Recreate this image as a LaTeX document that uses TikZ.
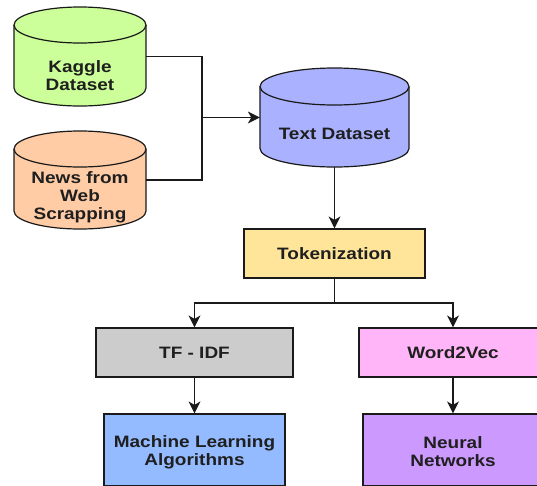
\documentclass[tikz,border=0pt]{standalone}
\usepackage{fontspec}
\setmainfont{Liberation Sans}[FakeStretch=1.15]
\usetikzlibrary{arrows.meta}

\definecolor{cKaggle}{HTML}{CCFF99}
\definecolor{cNews}{HTML}{FFCCA6}
\definecolor{cText}{HTML}{AAB2FF}
\definecolor{cTok}{HTML}{FFE599}
\definecolor{cTfidf}{HTML}{CCCCCC}
\definecolor{cW2v}{HTML}{FFB5F7}
\definecolor{cMl}{HTML}{94BAFF}
\definecolor{cNn}{HTML}{CC99FF}
\definecolor{cLine}{HTML}{1A1A1A}

\tikzset{
  lbl/.style={align=center, text=black!88, font=\fontsize{16.5}{18}\selectfont\bfseries, inner sep=0pt},
  frame/.style={draw=none, inner sep=0pt},
  procbox/.style={draw=cLine, line width=1.2pt, inner sep=0pt},
  cylline/.style={draw=cLine, line width=1.2pt},
  link/.style={draw=cLine, line width=1.3pt},
  flow/.style={link, arrows={-Stealth[length=12pt, width=12pt, inset=3.5pt, line width=0pt]}},
}

\begin{document}
\begin{tikzpicture}[x=1pt, y=-1pt]
  \useasboundingbox (0,0) rectangle (537,485);
  \clip (0,0) rectangle (537,485);

  % --- Kaggle Dataset cylinder ---
  \node[frame, minimum width=132pt, minimum height=99pt] (kaggle) at (80,56.5) {};
  \path[cylline, fill=cKaggle] (14,25) -- (14,88)
    arc[start angle=180, end angle=360, x radius=66pt, y radius=18pt] -- (146,25)
    arc[start angle=0, end angle=180, x radius=66pt, y radius=18pt] -- cycle;
  \draw[cylline] (14,25) arc[start angle=180, end angle=360, x radius=66pt, y radius=18pt];
  \node[lbl] (kagglelbl) at (80,76) {Kaggle\\Dataset};

  % --- News from Web Scrapping cylinder ---
  \node[frame, minimum width=132pt, minimum height=98pt] (news) at (80,180) {};
  \path[cylline, fill=cNews] (14,149) -- (14,211)
    arc[start angle=180, end angle=360, x radius=66pt, y radius=18pt] -- (146,149)
    arc[start angle=0, end angle=180, x radius=66pt, y radius=18pt] -- cycle;
  \draw[cylline] (14,149) arc[start angle=180, end angle=360, x radius=66pt, y radius=18pt];
  \node[lbl] (newslbl) at (80,197) {News from\\Web\\Scrapping};

  % --- Text Dataset cylinder ---
  \node[frame, minimum width=149pt, minimum height=99pt] (textds) at (334.5,117.5) {};
  \path[cylline, fill=cText] (260,86.5) -- (260,148.5)
    arc[start angle=180, end angle=360, x radius=74.5pt, y radius=18.5pt] -- (409,86.5)
    arc[start angle=0, end angle=180, x radius=74.5pt, y radius=18.5pt] -- cycle;
  \draw[cylline] (260,86.5) arc[start angle=180, end angle=360, x radius=74.5pt, y radius=18.5pt];
  \node[lbl] (textdslbl) at (334.5,134) {Text Dataset};

  % --- process boxes ---
  \node[procbox, fill=cTok, minimum width=181pt, minimum height=49pt] (token) at (334.5,253.5) {};
  \node[lbl] at (token.center) {Tokenization};
  \node[procbox, fill=cTfidf, minimum width=197pt, minimum height=49pt] (tfidf) at (194.5,352.5) {};
  \node[lbl] at (tfidf.center) {TF - IDF};
  \node[procbox, fill=cW2v, minimum width=188pt, minimum height=49pt] (w2v) at (453,352.5) {};
  \node[lbl] at (w2v.center) {Word2Vec};
  \node[procbox, fill=cMl, minimum width=181pt, minimum height=72pt] (ml) at (194.5,450) {};
  \node[lbl] at (194.5,452) {Machine Learning\\Algorithms};
  \node[procbox, fill=cNn, minimum width=180pt, minimum height=72pt] (nn) at (453,450) {};
  \node[lbl] at (453,452) {Neural\\Networks};

  % --- connectors ---
  \coordinate (join) at (202,117.5);
  \draw[link] (kaggle.east) -| (join);
  \draw[link] (news.east) -| (join);
  \draw[flow] (join) -- (textds.west);
  \draw[flow] (textds.south) -- (token.north);

  \coordinate (split) at (334.5,303);
  \draw[link] (token.south) -- (split);
  \draw[flow] (split) -| (tfidf.north);
  \draw[flow] (split) -| (w2v.north);
  \draw[flow] (tfidf.south) -- (ml.north);
  \draw[flow] (w2v.south) -- (nn.north);
\end{tikzpicture}
\end{document}
